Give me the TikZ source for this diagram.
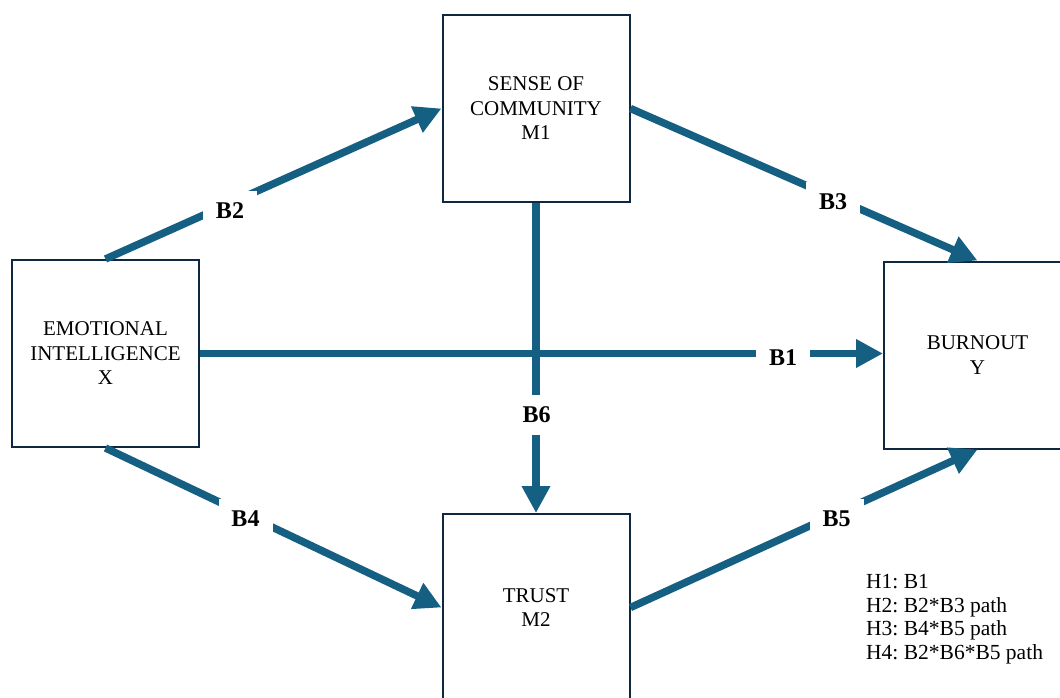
\documentclass[tikz,border=0pt]{standalone}
\usepackage{fontspec}
\setmainfont{Liberation Serif}
\usetikzlibrary{arrows.meta}
\definecolor{arrc}{HTML}{156082}
\definecolor{boxc}{HTML}{0E2841}
\frenchspacing
\tikzset{
  boxnode/.style={draw=boxc, line width=2pt, fill=white, minimum width=187pt, minimum height=187pt, inner sep=0pt, align=center, font=\fontsize{21}{24.5}\selectfont},
  arr/.style={draw=arrc, line width=7.5pt, -{Triangle[length=27pt,width=27pt]}},
  lbl/.style={fill=white, inner sep=0pt, minimum width=54pt, minimum height=40pt, font=\fontsize{24}{28}\selectfont\bfseries},
  legendtext/.style={anchor=north west, inner sep=0pt, align=left, font=\fontsize{21.5}{23.7}\selectfont},
}
\begin{document}
\begin{tikzpicture}[x=1pt,y=-1pt]
\useasboundingbox (0,0) rectangle (1060,698);
\node[boxnode] (ei)  at (105.5,353.5) {EMOTIONAL\\INTELLIGENCE\\X};
\node[boxnode] (soc) at (536,108.5) {SENSE OF\\COMMUNITY\\M1};
\node[boxnode] (bo)  at (977.5,355) {BURNOUT\\Y};
\node[boxnode] (tr)  at (536,607.5) {TRUST\\M2};

\draw[arr] (ei.north) -- (soc.west);
\draw[arr] (soc.east) -- (bo.north);
\draw[arr] (ei.east) -- (ei.east -| bo.west);
\draw[arr] (ei.south) -- (tr.west);
\draw[arr] (tr.east) -- (bo.south);
\draw[arr] (soc.south) -- (tr.north);

\node[lbl] (b2) at (230,211) {B2};
\node[lbl] (b3) at (833,202) {B3};
\node[lbl] (b1) at (783,358) {B1};
\node[lbl] (b6) at (536.5,415) {B6};
\node[lbl] (b4) at (245.5,519) {B4};
\node[lbl] (b5) at (836.5,519) {B5};

\node[legendtext] (legend) at (866,574) {H1: B1\\H2: B2*B3 path\\H3: B4*B5 path\\H4: B2*B6*B5 path};
\end{tikzpicture}
\end{document}
